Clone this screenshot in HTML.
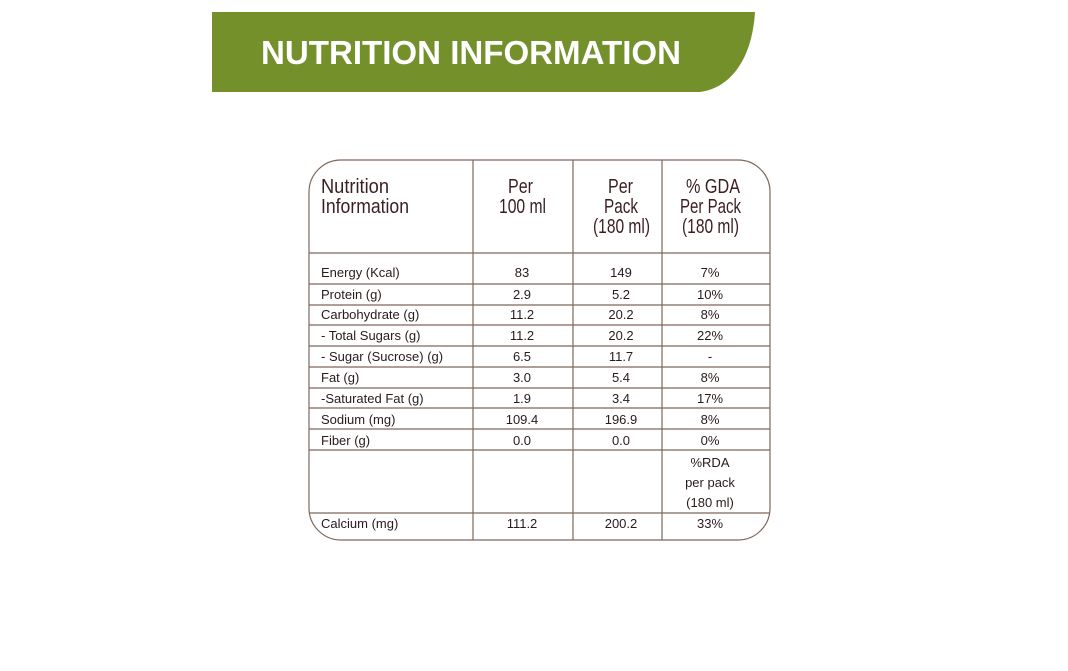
<!DOCTYPE html>
<html><head><style>
html,body{margin:0;padding:0;background:#fff;width:1068px;height:671px;overflow:hidden}
svg{display:block}
.h{font-family:"Liberation Sans",sans-serif;font-size:20px;fill:#3b1e22}
.b{font-family:"Liberation Sans",sans-serif;font-size:13px;fill:#2a1a1a}
</style></head><body>
<svg width="1068" height="671" viewBox="0 0 1068 671">
<path d="M212 12 H755 C752 60 730 88 700 92 H212 Z" fill="#73902b"/>
<text x="261" y="64" font-family="Liberation Sans,sans-serif" font-weight="bold" font-size="33" fill="#fff" textLength="420" lengthAdjust="spacingAndGlyphs">NUTRITION INFORMATION</text>
<g stroke="#7d685c" stroke-width="1.2" fill="none">
<rect x="309" y="160" width="461" height="380" rx="32" ry="32"/>
<line x1="473" y1="160" x2="473" y2="540"/>
<line x1="573" y1="160" x2="573" y2="540"/>
<line x1="662" y1="160" x2="662" y2="540"/>
<line x1="309" y1="253" x2="770" y2="253"/>
<line x1="309" y1="284" x2="770" y2="284"/>
<line x1="309" y1="305" x2="770" y2="305"/>
<line x1="309" y1="325" x2="770" y2="325"/>
<line x1="309" y1="346" x2="770" y2="346"/>
<line x1="309" y1="367" x2="770" y2="367"/>
<line x1="309" y1="388" x2="770" y2="388"/>
<line x1="309" y1="408" x2="770" y2="408"/>
<line x1="309" y1="429" x2="770" y2="429"/>
<line x1="309" y1="450" x2="770" y2="450"/>
<line x1="309" y1="513" x2="770" y2="513"/>
</g>
<g class="h" lengthAdjust="spacingAndGlyphs">
<text x="321" y="193" textLength="68" lengthAdjust="spacingAndGlyphs">Nutrition</text>
<text x="321" y="213" textLength="88" lengthAdjust="spacingAndGlyphs">Information</text>
<text x="508" y="193" textLength="25" lengthAdjust="spacingAndGlyphs">Per</text>
<text x="499" y="213" textLength="47" lengthAdjust="spacingAndGlyphs">100 ml</text>
<text x="608" y="193" textLength="25" lengthAdjust="spacingAndGlyphs">Per</text>
<text x="604" y="213" textLength="34" lengthAdjust="spacingAndGlyphs">Pack</text>
<text x="593" y="233" textLength="57" lengthAdjust="spacingAndGlyphs">(180 ml)</text>
<text x="686" y="193" textLength="54" lengthAdjust="spacingAndGlyphs">% GDA</text>
<text x="680" y="213" textLength="61" lengthAdjust="spacingAndGlyphs">Per Pack</text>
<text x="682" y="233" textLength="57" lengthAdjust="spacingAndGlyphs">(180 ml)</text>
</g>
<g class="b">
<text x="321" y="277">Energy (Kcal)</text>
<text x="321" y="299">Protein (g)</text>
<text x="321" y="319">Carbohydrate (g)</text>
<text x="321" y="340">- Total Sugars (g)</text>
<text x="321" y="361">- Sugar (Sucrose) (g)</text>
<text x="321" y="382">Fat (g)</text>
<text x="321" y="403">-Saturated Fat (g)</text>
<text x="321" y="424">Sodium (mg)</text>
<text x="321" y="445">Fiber (g)</text>
<text x="321" y="528">Calcium (mg)</text>
<g text-anchor="middle">
<text x="522" y="277">83</text><text x="621" y="277">149</text><text x="710" y="277">7%</text>
<text x="522" y="299">2.9</text><text x="621" y="299">5.2</text><text x="710" y="299">10%</text>
<text x="522" y="319">11.2</text><text x="621" y="319">20.2</text><text x="710" y="319">8%</text>
<text x="522" y="340">11.2</text><text x="621" y="340">20.2</text><text x="710" y="340">22%</text>
<text x="522" y="361">6.5</text><text x="621" y="361">11.7</text><text x="710" y="361">-</text>
<text x="522" y="382">3.0</text><text x="621" y="382">5.4</text><text x="710" y="382">8%</text>
<text x="522" y="403">1.9</text><text x="621" y="403">3.4</text><text x="710" y="403">17%</text>
<text x="522" y="424">109.4</text><text x="621" y="424">196.9</text><text x="710" y="424">8%</text>
<text x="522" y="445">0.0</text><text x="621" y="445">0.0</text><text x="710" y="445">0%</text>
<text x="710" y="467">%RDA</text><text x="710" y="487">per pack</text><text x="710" y="507">(180 ml)</text>
<text x="522" y="528">111.2</text><text x="621" y="528">200.2</text><text x="710" y="528">33%</text>
</g></g>
</svg>
</body></html>
